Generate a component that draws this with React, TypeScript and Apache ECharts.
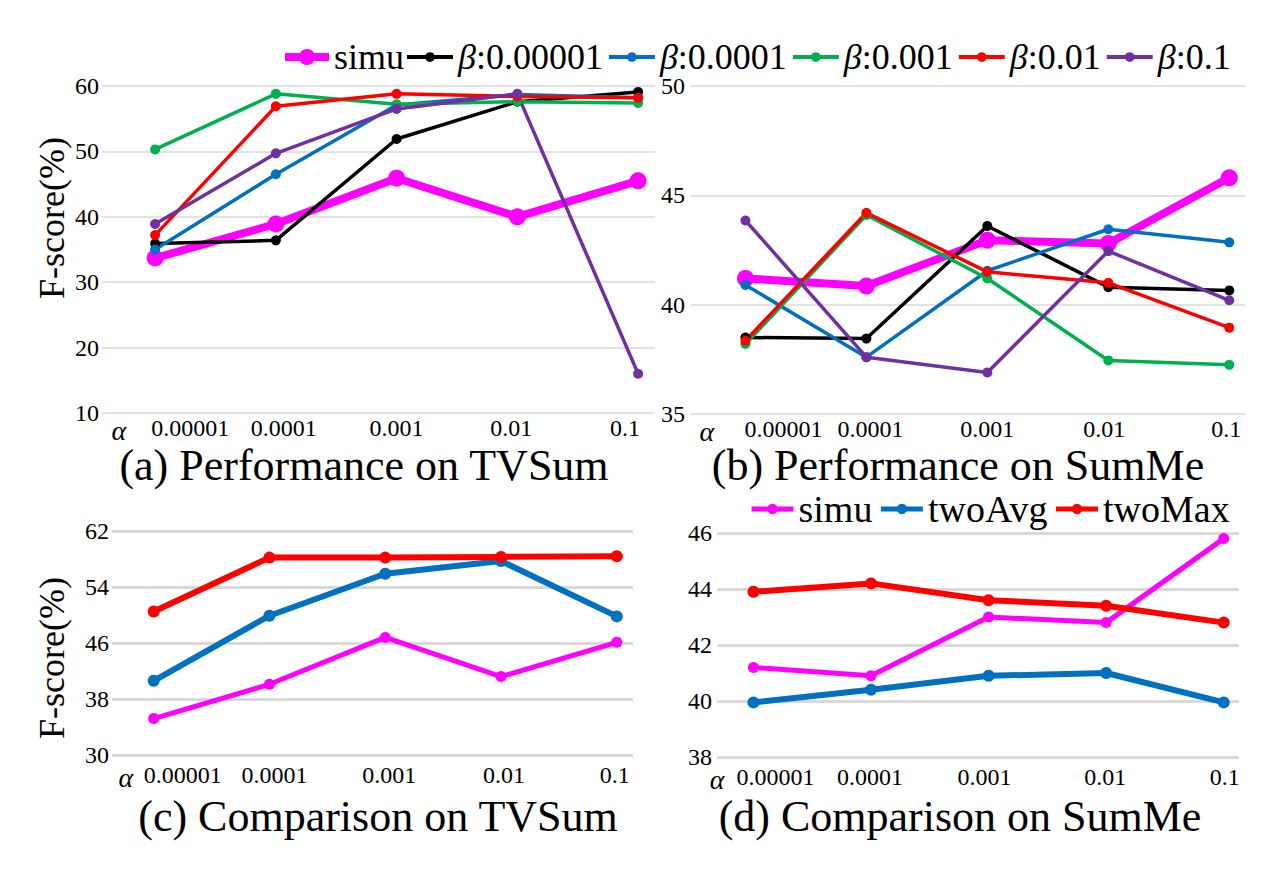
import React, { useEffect, useRef } from "react";
import * as echarts from "echarts";

const FONT = "Liberation Serif";

const categories = ["0.00001", "0.0001", "0.001", "0.01", "0.1"];
const betaNames = ["β:0.00001", "β:0.0001", "β:0.001", "β:0.01", "β:0.1"];
const betaColors = ["#000000", "#0070C0", "#00B050", "#FF0000", "#7030A0"];
const SIMU = "#FF00FF";

// (a) Performance on TVSum
const simuA = [33.7, 38.9, 45.9, 40.0, 45.5];
const beta1A = [35.9, 36.4, 51.9, 57.6, 59.1];
const beta2A = [35.0, 46.5, 57.1, 58.7, 58.2];
const beta3A = [50.3, 58.8, 57.2, 57.6, 57.4];
const beta4A = [37.2, 56.9, 58.8, 58.4, 58.2];
const beta5A = [38.9, 49.7, 56.5, 58.8, 16.0];

// (b) Performance on SumMe
const simuB = [41.2, 40.85, 42.95, 42.8, 45.8];
const beta1B = [38.5, 38.45, 43.6, 40.8, 40.65];
const beta2B = [40.9, 37.6, 41.55, 43.45, 42.85];
const beta3B = [38.2, 44.1, 41.2, 37.45, 37.25];
const beta4B = [38.35, 44.2, 41.5, 41.0, 38.95];
const beta5B = [43.85, 37.6, 36.9, 42.45, 40.2];

// (c) Comparison on TVSum
const simuC = [35.2, 40.1, 46.8, 41.2, 46.1];
const twoAvgC = [40.6, 49.9, 55.9, 57.7, 49.8];
const twoMaxC = [50.5, 58.2, 58.2, 58.3, 58.4];

// (d) Comparison on SumMe
const simuD = [41.2, 40.9, 43.0, 42.8, 45.8];
const twoAvgD = [39.95, 40.4, 40.9, 41.0, 39.95];
const twoMaxD = [43.9, 44.2, 43.6, 43.4, 42.8];

const compNames = ["simu", "twoAvg", "twoMax"];
const compColors = [SIMU, "#0070C0", "#FF0000"];

const titles = [
  "(a) Performance on TVSum",
  "(b) Performance on SumMe",
  "(c) Comparison on TVSum",
  "(d) Comparison on SumMe",
];

function makeX(gi: number, min: number, max: number, alphaPos: number, offsets: number[], margin: number) {
  const rich: any = {
    al: { fontFamily: FONT, fontStyle: "italic", fontSize: 28, color: "#000" },
  };
  offsets.forEach((d, i) => {
    rich["l" + i] = {
      fontFamily: FONT,
      fontSize: 24,
      color: "#000",
      padding: d >= 0 ? [0, 0, 0, 2 * d] : [0, -2 * d, 0, 0],
    };
  });
  return {
    type: "value",
    gridIndex: gi,
    min,
    max,
    axisLine: { show: false },
    axisTick: { show: false },
    splitLine: { show: false },
    axisLabel: {
      customValues: [alphaPos, 0, 1, 2, 3, 4],
      margin,
      hideOverlap: false,
      fontFamily: FONT,
      formatter: (v: number) => {
        if (v < 0) return "{al|α}";
        const i = Math.round(v);
        return `{l${i}|${categories[i]}}`;
      },
      rich,
    },
  };
}

function makeY(gi: number, min: number, max: number, interval: number, gridWidth: number, margin: number, lineHeight = 24) {
  return {
    type: "value",
    gridIndex: gi,
    min,
    max,
    interval,
    axisLine: { show: false },
    axisTick: { show: false },
    splitLine: { show: true, lineStyle: { color: "#d9d9d9", width: gridWidth } },
    axisLabel: { fontFamily: FONT, fontSize: 24, lineHeight, color: "#000", margin },
  };
}

function mkSeries(name: string, data: number[], gi: number, color: string, lw: number, ss: number) {
  return {
    type: "line",
    name,
    xAxisIndex: gi,
    yAxisIndex: gi,
    data: data.map((v, i) => [i, v]),
    color,
    lineStyle: { color, width: lw },
    itemStyle: { color },
    symbol: "circle",
    symbolSize: ss,
    showSymbol: true,
    silent: true,
  };
}

function textEl(text: string, x: number, y: number, size: number, rotation = 0) {
  return {
    type: "text",
    x,
    y,
    rotation,
    style: {
      text,
      fontFamily: FONT,
      fontSize: size,
      fill: "#000",
      textAlign: "center",
      textVerticalAlign: "middle",
    },
  };
}

export default function App() {
  const ref = useRef<HTMLDivElement>(null);
  useEffect(() => {
    if (!ref.current) return;
    const chart = echarts.init(ref.current, null, { renderer: "svg" });
    const betaA = [beta1A, beta2A, beta3A, beta4A, beta5A];
    const betaB = [beta1B, beta2B, beta3B, beta4B, beta5B];
    const series: any[] = [];
    series.push(mkSeries("simu", simuA, 0, SIMU, 8, 17));
    betaA.forEach((d, i) => series.push(mkSeries(betaNames[i], d, 0, betaColors[i], 3.5, 10)));
    series.push(mkSeries("simu", simuB, 1, SIMU, 8, 17));
    betaB.forEach((d, i) => series.push(mkSeries(betaNames[i], d, 1, betaColors[i], 3.5, 10)));
    [simuC, twoAvgC, twoMaxC].forEach((d, i) =>
      series.push(mkSeries(compNames[i], d, 2, compColors[i], i === 0 ? 5 : 6, i === 0 ? 11 : 12))
    );
    [simuD, twoAvgD, twoMaxD].forEach((d, i) =>
      series.push(mkSeries(compNames[i], d, 3, compColors[i], i === 0 ? 5 : 6, i === 0 ? 11 : 12))
    );

    const legendText = { fontFamily: FONT, fontSize: 36, color: "#000" };
    const option: any = {
      animation: false,
      backgroundColor: "#ffffff",
      textStyle: { fontFamily: FONT },
      grid: [
        { left: 102, top: 86, width: 553, height: 327 },
        { left: 691, top: 86, width: 554, height: 328 },
        { left: 112, top: 531, width: 521, height: 224 },
        { left: 717, top: 533, width: 522, height: 224 },
      ],
      xAxis: [
        makeX(0, -0.44, 4.14, -0.3, [35, 8, 0, -6, -13], 3),
        makeX(1, -0.45, 4.13, -0.32, [38, 4, 0, -4, -3], 3),
        makeX(2, -0.36, 4.14, -0.24, [29, 5, 4, 3, -2], 8),
        makeX(3, -0.31, 4.13, -0.31, [22, -1, -4, -1, 1], 8),
      ],
      yAxis: [
        makeY(0, 10, 60, 10, 1.5, 3),
        makeY(1, 35, 50, 5, 1.5, 6, 18),
        makeY(2, 30, 62, 8, 3, 3),
        makeY(3, 38, 46, 2, 3, 5),
      ],
      legend: [
        {
          data: [{ name: "simu", lineStyle: { width: 8 } }],
          left: 276,
          top: 34,
          itemWidth: 44,
          itemHeight: 20,
          itemGap: 0,
          selectedMode: false,
          textStyle: legendText,
        },
        {
          data: betaNames.map((n) => ({ name: n, lineStyle: { width: 4 } })),
          left: 400,
          top: 34,
          itemWidth: 46,
          itemHeight: 12,
          itemGap: 4,
          selectedMode: false,
          formatter: (n: string) => n.replace("β", "{i|β}"),
          textStyle: {
            ...legendText,
            rich: { i: { fontFamily: FONT, fontStyle: "italic", fontSize: 36, color: "#000" } },
          },
        },
        {
          data: compNames.map((n) => ({ name: n, lineStyle: { width: 5 } })),
          left: 744,
          top: 485,
          itemWidth: 42,
          itemHeight: 13,
          itemGap: 6,
          selectedMode: false,
          textStyle: { fontFamily: FONT, fontSize: 38, color: "#000" },
        },
      ],
      graphic: [
        textEl(titles[0], 364, 465, 44),
        textEl(titles[1], 958, 465, 44),
        textEl(titles[2], 378, 816, 44),
        textEl(titles[3], 960, 816, 44),
        textEl("F-score(%)", 52, 218, 36, Math.PI / 2),
        textEl("F-score(%)", 52, 658, 36, Math.PI / 2),
      ],
      series,
    };
    chart.setOption(option);
    return () => chart.dispose();
  }, []);
  return (
    <div
      ref={ref}
      style={{ position: "absolute", left: 0, top: 0, width: 1288, height: 877, background: "#fff" }}
    />
  );
}
